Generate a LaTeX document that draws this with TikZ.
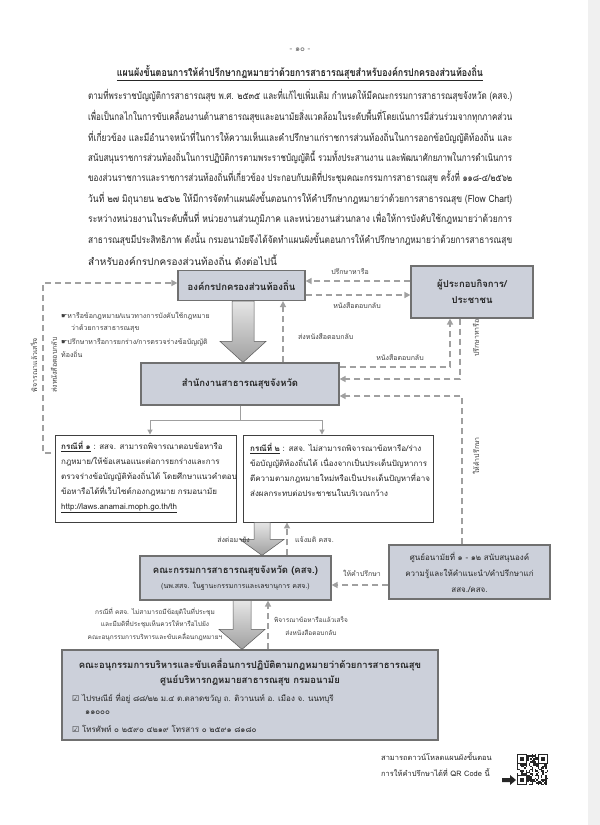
\documentclass[tikz,border=0pt]{standalone}
\usepackage{fontspec}
\usepackage{graphicx}
\setmainfont[Script=Thai]{Loma}
\newfontfamily\symf{DejaVu Sans}
\usetikzlibrary{arrows.meta,calc}
\definecolor{boxfill}{HTML}{CCD0DA}
\definecolor{boxline}{HTML}{707070}
\definecolor{dashc}{HTML}{A0A0A0}
\definecolor{ink}{HTML}{262626}
\newcommand\fitw[2]{\resizebox{#1}{\height}{#2}}
\newcommand\bigarr[6]{% x, from, to, shaft half, head half, head length
  \shade[top color=gray!20, bottom color=gray!75, draw=gray!70!black, line width=0.5pt]
   let \p1=(#2), \p2=(#3) in
   ({#1pt-#4pt},\y1) -- ({#1pt+#4pt},\y1) -- ({#1pt+#4pt},\y2+#6pt) -- ({#1pt+#5pt},\y2+#6pt)
   -- (#1pt,\y2) -- ({#1pt-#5pt},\y2+#6pt) -- ({#1pt-#4pt},\y2+#6pt) -- cycle;}
\tikzset{
  para/.style={anchor=west, inner sep=0pt, font=\fontsize{10}{12}\selectfont, text=ink},
  graybox/.style={draw=boxline, line width=1.2pt, fill=boxfill, inner sep=0pt, align=center, text=ink},
  whitebox/.style={draw=black!75, line width=0.9pt, fill=white, inner sep=0pt},
  btitle/.style={font=\bfseries\fontsize{9.5}{11}\selectfont},
  ctext/.style={inner sep=0pt, align=left, font=\fontsize{8}{15}\selectfont, text=ink},
  dsh/.style={draw=dashc, line width=1.5pt, dash pattern=on 6pt off 4pt, -{Triangle[length=6pt,width=6pt]}},
  lbl/.style={inner sep=0pt, font=\fontsize{7}{8.5}\selectfont, text=black!75},
  conn/.style={draw=gray!75, line width=1pt},
}
\begin{document}
\begin{tikzpicture}[x=1pt,y=-1pt]
\useasboundingbox (0,0) rectangle (600,825);
\fill[white] (0,0) rectangle (600,825);
\fill[gray!12] (588,0) rectangle (600,825);

% header
\node[inner sep=0pt, font=\fontsize{8}{9}\selectfont, text=black!60] (pg) at (300,50) {- ๑๐ -};
\node[inner sep=0pt, font=\bfseries\fontsize{10.5}{12}\selectfont, text=ink] (title) at (300,73)
  {\underline{\fitw{366pt}{แผนผังขั้นตอนการให้คำปรึกษากฎหมายว่าด้วยการสาธารณสุขสำหรับองค์กรปกครองส่วนท้องถิ่น}}};

% paragraph
\node[para] (p1) at (88,96) {\fitw{424pt}{ตามที่พระราชบัญญัติการสาธารณสุข พ.ศ. ๒๕๓๕ และที่แก้ไขเพิ่มเติม กำหนดให้มีคณะกรรมการสาธารณสุขจังหวัด (คสจ.)}};
\node[para] (p2) at (88,116.5) {\fitw{424pt}{เพื่อเป็นกลไกในการขับเคลื่อนงานด้านสาธารณสุขและอนามัยสิ่งแวดล้อมในระดับพื้นที่โดยเน้นการมีส่วนร่วมจากทุกภาคส่วน}};
\node[para] (p3) at (88,137) {\fitw{424pt}{ที่เกี่ยวข้อง และมีอำนาจหน้าที่ในการให้ความเห็นและคำปรึกษาแก่ราชการส่วนท้องถิ่นในการออกข้อบัญญัติท้องถิ่น และ}};
\node[para] (p4) at (88,157.5) {\fitw{424pt}{สนับสนุนราชการส่วนท้องถิ่นในการปฏิบัติการตามพระราชบัญญัตินี้ รวมทั้งประสานงาน และพัฒนาศักยภาพในการดำเนินการ}};
\node[para] (p5) at (88,178) {\fitw{424pt}{ของส่วนราชการและราชการส่วนท้องถิ่นที่เกี่ยวข้อง ประกอบกับมติที่ประชุมคณะกรรมการสาธารณสุข ครั้งที่ ๑๑๘-๔/๒๕๖๒}};
\node[para] (p6) at (88,198.5) {\fitw{424pt}{วันที่ ๒๗ มิถุนายน ๒๕๖๒ ให้มีการจัดทำแผนผังขั้นตอนการให้คำปรึกษากฎหมายว่าด้วยการสาธารณสุข (Flow Chart)}};
\node[para] (p7) at (88,219) {\fitw{424pt}{ระหว่างหน่วยงานในระดับพื้นที่ หน่วยงานส่วนภูมิภาค และหน่วยงานส่วนกลาง เพื่อให้การบังคับใช้กฎหมายว่าด้วยการ}};
\node[para] (p8) at (88,239.5) {\fitw{424pt}{สาธารณสุขมีประสิทธิภาพ ดังนั้น กรมอนามัยจึงได้จัดทำแผนผังขั้นตอนการให้คำปรึกษากฎหมายว่าด้วยการสาธารณสุข}};
\node[para] (p9) at (88,260) {สำหรับองค์กรปกครองส่วนท้องถิ่น ดังต่อไปนี้};

% boxes
\node[graybox, btitle, minimum width=127pt, minimum height=30pt] (A) at (241.5,285.5) {องค์กรปกครองส่วนท้องถิ่น};
\node[graybox, btitle, minimum width=122pt, minimum height=52pt] (B) at (472,292) {ผู้ประกอบกิจการ/\\[5pt]ประชาชน};
\node[graybox, btitle, minimum width=198pt, minimum height=42pt] (C) at (240,384) {สำนักงานสาธารณสุขจังหวัด};
\node[whitebox, minimum width=181pt, minimum height=87pt] (k1) at (145.5,478.5) {};
\node[whitebox, minimum width=190pt, minimum height=87pt] (k2) at (338,478.5) {};
\node[graybox, minimum width=191pt, minimum height=44pt] (E) at (235.5,578)
  {{\bfseries\fontsize{9.5}{11}\selectfont คณะกรรมการสาธารณสุขจังหวัด (คสจ.)}\\[3pt]
   {\fontsize{7}{8}\selectfont (นพ.สสจ. ในฐานะกรรมการและเลขานุการ คสจ.)}};
\node[graybox, minimum width=161pt, minimum height=54pt, font=\fontsize{8}{16}\selectfont] (D) at (469.5,572)
  {ศูนย์อนามัยที่ ๑ - ๑๒ สนับสนุนองค์\\ความรู้และให้คำแนะนำ/คำปรึกษาแก่\\สสจ./คสจ.};
\node[graybox, minimum width=376pt, minimum height=90pt] (F) at (250,695) {};

% case texts
\node[ctext, anchor=north west] (k1t) at (61,441)
  {\underline{\textbf{กรณีที่ ๑}} : สสจ. สามารถพิจารณาตอบข้อหารือ\\
   กฎหมาย/ให้ข้อเสนอแนะต่อการยกร่างและการ\\
   ตรวจร่างข้อบัญญัติท้องถิ่นได้ โดยศึกษาแนวคำตอบ\\
   ข้อหารือได้ที่เว็บไซต์กองกฎหมาย กรมอนามัย\\
   \underline{http://laws.anamai.moph.go.th/th}};
\node[ctext, anchor=north west] (k2t) at (250,443)
  {\underline{\textbf{กรณีที่ ๒}} : สสจ. ไม่สามารถพิจารณาข้อหารือ/ร่าง\\
   ข้อบัญญัติท้องถิ่นได้ เนื่องจากเป็นประเด็นปัญหาการ\\
   ตีความตามกฎหมายใหม่หรือเป็นประเด็นปัญหาที่อาจ\\
   ส่งผลกระทบต่อประชาชนในบริเวณกว้าง};

% F texts
\node[inner sep=0pt, btitle, text=ink] (f1) at (250,665) {คณะอนุกรรมการบริหารและขับเคลื่อนการปฏิบัติตามกฎหมายว่าด้วยการสาธารณสุข};
\node[inner sep=0pt, btitle, text=ink] (f2) at (250,681) {ศูนย์บริหารกฎหมายสาธารณสุข กรมอนามัย};
\node[inner sep=0pt, anchor=west, font=\fontsize{8}{9}\selectfont, text=ink] (f3) at (72,698) {{\symf ☑} ไปรษณีย์ ที่อยู่ ๘๘/๒๒ ม.๔ ต.ตลาดขวัญ ถ. ติวานนท์ อ. เมือง จ. นนทบุรี};
\node[inner sep=0pt, anchor=west, font=\fontsize{8}{9}\selectfont, text=ink] (f4) at (85,713) {๑๑๐๐๐};
\node[inner sep=0pt, anchor=west, font=\fontsize{8}{9}\selectfont, text=ink] (f5) at (72,729) {{\symf ☑} โทรศัพท์ ๐ ๒๕๙๐ ๔๒๑๙ โทรสาร ๐ ๒๕๙๑ ๘๑๘๐};

% bullets
\node[lbl, anchor=west] (b1) at (61,316) {{\symf ☛}หารือข้อกฎหมาย/แนวทางการบังคับใช้กฎหมาย};
\node[lbl, anchor=west] (b2) at (71,328) {ว่าด้วยการสาธารณสุข};
\node[lbl, anchor=west] (b3) at (61,342) {{\symf ☛}ปรึกษาหารือการยกร่าง/การตรวจร่างข้อบัญญัติ};
\node[lbl, anchor=west] (b4) at (61,354) {ท้องถิ่น};

% big arrows
\bigarr{243}{A.south}{C.north}{11}{23}{21}
\bigarr{262}{k2.south}{E.north}{8}{22}{16}
\bigarr{242}{E.south}{F.north}{9}{23}{20}

% A <-> B
\draw[dsh] (B.west |- 0,281) -- (A.east |- 0,281);
\node[lbl] (l1) at (350,272) {ปรึกษาหารือ};
\draw[dsh] (A.east |- 0,295) -- (B.west |- 0,295);
\node[lbl] (l2) at (357,306) {หนังสือตอบกลับ};

% left loop
\coordinate (lq) at (51,453);
\coordinate (lc) at (43,283);
\draw[dsh] (lq) -| (lc) -- (A.west |- lc);
\node[lbl, rotate=90] (l3) at (34,365) {พิจารณาแล้วเสร็จ};
\node[lbl, rotate=90] (l4) at (54,365) {ส่งหนังสือตอบกลับ};

% C -> A
\draw[dsh] (C.north -| 283,0) -- (A.south -| 283,0);
\node[lbl, anchor=west] (l5) at (298,337) {ส่งหนังสือตอบกลับ};

% C <-> B, D -> C
\draw[dsh] (C.east |- 0,367) -| (B.south -| 450,0);
\node[lbl] (l6) at (400,358) {หนังสือตอบกลับ};
\draw[dsh] (B.south -| 460,0) |- (C.east |- 0,379);
\node[lbl, rotate=90] (l7) at (476,338) {ปรึกษาหารือ};
\draw[dsh] (D.north -| 462,0) |- (C.east |- 0,396);
\node[lbl, rotate=90] (l8) at (476,456) {ให้คำปรึกษา};

% C -> cases
\draw[conn] (C.south) -- (C.south |- 0,420) coordinate (sp);
\draw[conn, -{Triangle[length=5pt,width=5pt]}] (sp) -| (k1.north -| 150,0);
\draw[conn, -{Triangle[length=5pt,width=5pt]}] (sp) -| (k2.north -| 322,0);

% case2 <-> E
\node[lbl, anchor=east] (l9) at (250,540) {ส่งต่อมายัง};
\draw[dsh] (E.north -| 287,0) -- (k2.south -| 287,0);
\node[lbl, anchor=west] (l10) at (295,540) {แจ้งมติ คสจ.};

% D -> E
\draw[dsh] (D.west |- 0,585) -- (E.east |- 0,585);
\node[lbl] (l11) at (362,573) {ให้คำปรึกษา};

% E <-> F
\node[lbl, align=center, font=\fontsize{6.5}{12.5}\selectfont] (l12) at (155,624)
  {กรณีที่ คสจ. ไม่สามารถมีข้อยุติในที่ประชุม\\และมีมติที่ประชุมเห็นควรให้หารือไปยัง\\คณะอนุกรรมการบริหารและขับเคลื่อนกฎหมายฯ};
\draw[dsh] (F.north -| 268,0) -- (E.south -| 268,0);
\node[lbl, align=center, font=\fontsize{6.5}{13}\selectfont] (l13) at (311,626)
  {พิจารณาข้อหารือแล้วเสร็จ\\ส่งหนังสือตอบกลับ};

% QR note
\node[inner sep=0pt, anchor=west, font=\fontsize{7.5}{9}\selectfont, text=ink] (q1) at (381,757) {สามารถดาวน์โหลดแผนผังขั้นตอน};
\node[inner sep=0pt, anchor=west, font=\fontsize{7.5}{9}\selectfont, text=ink] (q2) at (381,773) {การให้คำปรึกษาได้ที่ QR Code นี้};
\fill[black!85] (502,778) -- (510,778) -- (510,775) -- (516,780) -- (510,785) -- (510,782) -- (502,782) -- cycle;
\begin{scope}[shift={(517,754)}]
  \pgfmathsetseed{42}
  \foreach \i in {0,...,20}{\foreach \j in {0,...,20}{%
    \pgfmathtruncatemacro\qb{rnd>0.5?1:0}%
    \ifnum\qb=1 \fill[black!85] (\i*1.48,\j*1.48) rectangle ++(1.48,1.48);\fi}}
  \foreach \u/\v in {0/0,14/0,0/14}{%
    \fill[white] (\u*1.48,\v*1.48) rectangle ++(7*1.48,7*1.48);
    \fill[black!85] (\u*1.48,\v*1.48) rectangle ++(7*1.48,7*1.48);
    \fill[white] (\u*1.48+1.48,\v*1.48+1.48) rectangle ++(5*1.48,5*1.48);
    \fill[black!85] (\u*1.48+2.96,\v*1.48+2.96) rectangle ++(3*1.48,3*1.48);}
\end{scope}
\end{tikzpicture}
\end{document}
